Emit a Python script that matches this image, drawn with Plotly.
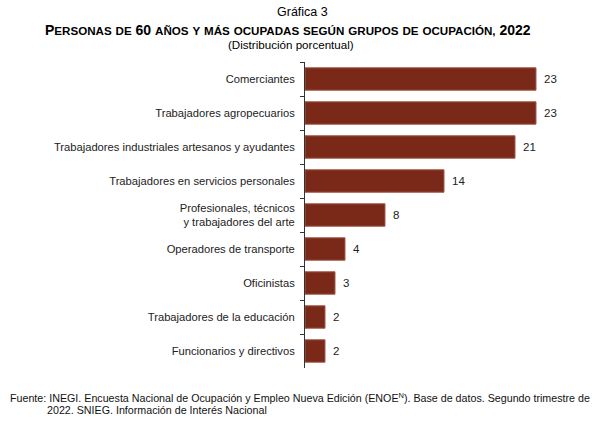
import plotly.graph_objects as go

categories = [
    "Comerciantes",
    "Trabajadores agropecuarios",
    "Trabajadores industriales artesanos y ayudantes",
    "Trabajadores en servicios personales",
    "Profesionales, técnicos<br>y trabajadores del arte",
    "Operadores de transporte",
    "Oficinistas",
    "Trabajadores de la educación",
    "Funcionarios y directivos",
]
values = [23.1, 23.1, 21.0, 13.9, 8.0, 4.0, 3.0, 2.0, 2.0]
labels = ["23", "23", "21", "14", "8", "4", "3", "2", "2"]

BAR = "#7a2919"
FONT = "Liberation Sans, Arial, sans-serif"

fig = go.Figure()
fig.add_trace(go.Bar(
    y=categories, x=values, orientation="h",
    marker=dict(color=BAR, line=dict(color="#a45a4c", width=1)),
    width=0.66, hoverinfo="skip",
))

for c, v, t in zip(categories, values, labels):
    fig.add_annotation(x=v, y=c, text=t, xanchor="left", xshift=6, showarrow=False,
                       font=dict(family=FONT, size=11.5, color="#222"))

BIG, SMALL = 14, 11.6
def sc(word, first):
    if word[0].isdigit():
        return f"<span style='font-size:{BIG}px'>{word}</span>"
    if first:
        return f"<span style='font-size:{BIG}px'>{word[0]}</span><span style='font-size:{SMALL}px'>{word[1:]}</span>"
    return f"<span style='font-size:{SMALL}px'>{word}</span>"

title_words = "PERSONAS DE 60 AÑOS Y MÁS OCUPADAS SEGÚN GRUPOS DE OCUPACIÓN, 2022".split(" ")
title_html = "<b>" + " ".join(sc(w, i == 0) for i, w in enumerate(title_words)) + "</b>"

pl, pr, pt, pb = 305, 575, 62, 368
fig.update_layout(
    width=605, height=424,
    margin=dict(l=pl, r=605 - pr, t=pt, b=424 - pb),
    paper_bgcolor="white", plot_bgcolor="white",
    showlegend=False,
    font=dict(family=FONT, size=11, color="#222"),
    xaxis=dict(range=[0, 27], visible=False, fixedrange=True),
    yaxis=dict(autorange="reversed", showline=True, linecolor="#333", linewidth=1,
               ticks="outside", ticklen=4, tickcolor="#333", tickson="boundaries",
               ticklabelstandoff=7,
               tickfont=dict(family=FONT, size=11.2, color="#222"), fixedrange=True),
)

def pa(x, y, text, size, anchor="center", color="#000"):
    fig.add_annotation(
        text=text, x=(x - pl) / (pr - pl), y=(pb - y) / (pb - pt), xref="paper", yref="paper",
        xanchor=anchor, yanchor="middle", showarrow=False, align="left",
        font=dict(family=FONT, size=size, color=color))

pa(302, 12, "Gráfica 3", 12.5)
pa(288, 30, title_html, BIG)
pa(291, 45, "(Distribución porcentual)", 11.6)
pa(8, 397, "Fuente: INEGI. Encuesta Nacional de Ocupación y Empleo Nueva Edición (ENOE<sup>N</sup>). Base de datos. Segundo trimestre de",
   10.7, anchor="left", color="#111")
pa(45, 410, "2022. SNIEG. Información de Interés Nacional", 10.7, anchor="left", color="#111")

fig.write_html("out.html", config={"displayModeBar": False},
               post_script="document.body.style.margin='0';document.body.style.overflow='hidden';")
